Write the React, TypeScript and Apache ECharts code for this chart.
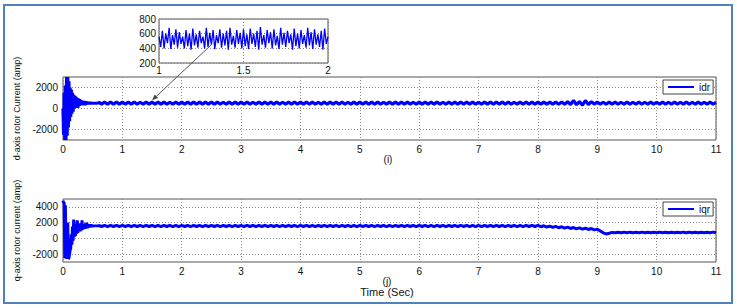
import React, { useEffect, useRef } from "react";
import * as echarts from "echarts";

// ---------- data ----------
const xTickLabels = ["0", "1", "2", "3", "4", "5", "6", "7", "8", "9", "10", "11"];
const insetXLabels = ["1", "1.5", "2"];
const insetYLabels = ["200", "400", "600", "800"];

// idr: transient, t = 0.00 .. 0.59 s, step 0.01
const idrTransient = [
  0, -2500, 1500, -3000, 2200, -3000, 3000, -2600, 3000, -1800,
  2600, -1200, 2000, -800, 1800, -500, 1500, -300, 1300, 0,
  1200, 100, 1100, 200, 1000, 50, 950, 250, 900, 300,
  800, 350, 750, 300, 700, 350, 720, 320, 680, 350,
  650, 380, 640, 380, 630, 400, 620, 400, 610, 410,
  600, 420, 600, 420, 610, 410, 600, 420, 600, 420,
];
// idr: steady part, t = 0.60 .. 11.00 s, step 0.05
const idrSteady = [
  600, 420, 610, 415, 600, 425, 605, 420,
  600, 420, 605, 415, 600, 425, 595, 420, 605, 415, 600, 425, 600, 415, 605, 420, 595, 425, 600, 415,
  605, 420, 600, 415, 600, 425, 605, 415, 600, 420, 600, 415, 605, 425, 595, 420, 600, 415, 605, 420,
  600, 425, 605, 415, 595, 420, 600, 415, 605, 425, 600, 415, 600, 420, 595, 425, 605, 415, 600, 420,
  600, 415, 600, 425, 605, 420, 595, 415, 600, 425, 605, 415, 600, 420, 600, 425, 595, 415, 605, 420,
  600, 420, 600, 415, 605, 425, 600, 415, 595, 420, 605, 425, 600, 415, 600, 420, 605, 415, 595, 425,
  605, 415, 600, 425, 600, 420, 605, 415, 595, 425, 600, 420, 605, 415, 600, 425, 600, 415, 605, 420,
  595, 425, 605, 415, 600, 420, 600, 415, 605, 425, 600, 415, 595, 420, 605, 425, 600, 415, 600, 420,
  600, 420, 605, 415, 600, 425, 610, 410, 620, 400, 640, 380, 760, 360, 660, 320, 760, 380, 640, 420,
  600, 420, 595, 425, 600, 420, 600, 420, 595, 425, 600, 420, 595, 420, 600, 425, 595, 420, 600, 420,
  595, 425, 600, 420, 595, 425, 600, 420, 595, 420, 600, 425, 595, 420, 600, 420, 595, 425, 600, 420,
  580,
];

// iqr: transient, t = 0.00 .. 0.59 s, step 0.01
const iqrTransient = [
  4800, 4500, 4600, -2500, 4200, -2600, 1500, -2600, 2000, -2600,
  -2500, -2000, -1500, -1200, 500, -800, 1500, -300, 2400, 200,
  1200, 300, 1800, 600, 2300, 700, 1500, 900, 1900, 900,
  1500, 1000, 2300, 1100, 1800, 1200, 1700, 1200, 1900, 1300,
  2000, 1300, 1700, 1400, 1800, 1400, 1800, 1450, 1750, 1450,
  1700, 1500, 1700, 1500, 1680, 1500, 1680, 1500, 1660, 1510,
];
// iqr: steady part, t = 0.60 .. 11.00 s, step 0.05
const iqrSteady = [
  1660, 1510, 1650, 1500, 1660, 1510, 1650, 1505,
  1655, 1510, 1650, 1505, 1660, 1510, 1650, 1500, 1660, 1510, 1655, 1505, 1660, 1500, 1650, 1510, 1655, 1505, 1660, 1500,
  1650, 1510, 1660, 1505, 1655, 1510, 1660, 1500, 1650, 1505, 1655, 1510, 1660, 1500, 1650, 1510, 1655, 1505, 1660, 1510,
  1655, 1505, 1650, 1510, 1660, 1500, 1655, 1510, 1650, 1505, 1660, 1510, 1655, 1500, 1660, 1505, 1650, 1510, 1655, 1500,
  1660, 1510, 1650, 1505, 1655, 1500, 1660, 1510, 1650, 1505, 1655, 1510, 1660, 1500, 1650, 1510, 1655, 1505, 1660, 1500,
  1650, 1505, 1660, 1510, 1655, 1500, 1650, 1510, 1660, 1505, 1655, 1500, 1660, 1510, 1650, 1505, 1655, 1510, 1660, 1500,
  1655, 1510, 1650, 1500, 1660, 1505, 1655, 1510, 1650, 1500, 1660, 1510, 1655, 1505, 1650, 1510, 1660, 1500, 1655, 1505,
  1660, 1500, 1655, 1510, 1650, 1505, 1660, 1510, 1655, 1500, 1650, 1510, 1660, 1505, 1655, 1500, 1660, 1510, 1650, 1505,
  1650, 1480, 1600, 1440, 1560, 1400, 1520, 1350, 1470, 1300, 1420, 1260, 1380, 1220, 1330, 1170, 1290, 1130, 1250, 1080,
  1150, 950, 700, 560, 650, 760, 720, 790, 720, 790, 715, 790, 720, 785, 720, 790, 715, 785, 720, 790,
  720, 790, 715, 785, 720, 790, 720, 785, 715, 790, 720, 790, 715, 785, 720, 790, 720, 785, 715, 790,
  750,
];

// zoomed idr, t = 1.00 .. 2.00 s, step 0.01
const idrZoom = [
  560, 420, 640, 400, 600, 470, 680, 390, 580, 450,
  660, 410, 620, 460, 560, 400, 650, 430, 600, 380,
  670, 440, 590, 410, 640, 470, 560, 400, 680, 420,
  610, 450, 650, 390, 580, 470, 660, 410, 600, 440,
  640, 380, 680, 450, 570, 410, 650, 460, 610, 400,
  660, 430, 590, 390, 670, 460, 600, 420, 640, 380,
  690, 450, 580, 410, 650, 470, 620, 400, 660, 440,
  570, 390, 680, 450, 610, 420, 640, 470, 590, 380,
  670, 430, 600, 400, 650, 460, 580, 410, 680, 440,
  620, 390, 660, 450, 590, 420, 640, 380, 670, 460,
  560,
];

const FONT = "'Liberation Sans', Arial, Helvetica, sans-serif";
const BLUE = "#0000ff";

function build(trans: number[], steady: number[]) {
  const out: number[][] = [];
  trans.forEach((v, i) => out.push([+(i * 0.01).toFixed(3), v]));
  steady.forEach((v, i) => out.push([+(0.6 + i * 0.05).toFixed(3), v]));
  return out;
}

export default function App() {
  const ref = useRef<HTMLDivElement>(null);
  useEffect(() => {
    document.body.style.margin = "0";
    const chart = echarts.init(ref.current!, undefined, { renderer: "svg" });

    const gridLine = { show: true, lineStyle: { color: "#8a8a8a", type: [1, 2] as any, width: 1 } };
    const altGridLine = { show: true, lineStyle: { color: ["rgba(0,0,0,0)", "#8a8a8a"], type: [1, 2] as any, width: 1 } };
    const label = { fontSize: 10, color: "#111", fontFamily: FONT };
    const evenOnly = (v: number) => (v % 2000 === 0 ? String(v) : "");

    const mainX = (gi: number) => ({
      gridIndex: gi,
      type: "value",
      min: 0,
      max: 11,
      interval: 1,
      axisLine: { show: false },
      axisTick: { show: false },
      axisLabel: { ...label, margin: 4, formatter: (v: number) => xTickLabels[Math.round(v)] ?? "" },
      splitLine: gridLine,
    });

    const option: any = {
      animation: false,
      backgroundColor: "#fff",
      grid: [
        { left: 63, top: 77, width: 653, height: 63, show: true, borderColor: "#555", borderWidth: 1, backgroundColor: "#fff" },
        { left: 63, top: 199, width: 653, height: 63, show: true, borderColor: "#555", borderWidth: 1, backgroundColor: "#fff" },
        { left: 159, top: 19, width: 169, height: 44, show: true, borderColor: "#555", borderWidth: 1, backgroundColor: "#fff" },
      ],
      xAxis: [
        mainX(0),
        mainX(1),
        {
          gridIndex: 2,
          type: "value",
          min: 1,
          max: 2,
          interval: 0.5,
          axisLine: { show: false },
          axisTick: { show: false },
          axisLabel: { ...label, margin: 2, formatter: (v: number) => insetXLabels[Math.round((v - 1) * 2)] ?? "" },
          splitLine: gridLine,
        },
      ],
      yAxis: [
        {
          gridIndex: 0,
          type: "value",
          min: -3000,
          max: 3000,
          interval: 1000,
          axisLine: { show: false },
          axisTick: { show: false },
          axisLabel: { ...label, margin: 5, formatter: evenOnly },
          splitLine: altGridLine,
          name: "d-axis rotor Current (amp)",
          nameLocation: "middle",
          nameRotate: 90,
          nameGap: 39,
          nameTextStyle: { fontSize: 9, color: "#111", fontFamily: FONT },
        },
        {
          gridIndex: 1,
          type: "value",
          min: -3000,
          max: 5000,
          interval: 1000,
          axisLine: { show: false },
          axisTick: { show: false },
          axisLabel: { ...label, margin: 5, formatter: evenOnly },
          splitLine: altGridLine,
          name: "q-axis rotor current (amp)",
          nameLocation: "middle",
          nameRotate: 90,
          nameGap: 39,
          nameTextStyle: { fontSize: 9, color: "#111", fontFamily: FONT },
        },
        {
          gridIndex: 2,
          type: "value",
          min: 200,
          max: 800,
          interval: 200,
          axisLine: { show: false },
          axisTick: { show: false },
          axisLabel: { ...label, margin: 3, formatter: (v: number) => insetYLabels[Math.round((v - 200) / 200)] ?? "" },
          splitLine: gridLine,
        },
      ],
      legend: [
        {
          data: ["idr"], left: 663, top: 80, backgroundColor: "#fff", borderColor: "#444", borderWidth: 1,
          padding: [2, 3, 2, 5], itemWidth: 26, itemHeight: 2, icon: "rect",
          textStyle: { fontSize: 10, color: "#111", fontFamily: FONT },
        },
        {
          data: ["iqr"], left: 663, top: 202, backgroundColor: "#fff", borderColor: "#444", borderWidth: 1,
          padding: [2, 3, 2, 5], itemWidth: 26, itemHeight: 2, icon: "rect",
          textStyle: { fontSize: 10, color: "#111", fontFamily: FONT },
        },
      ],
      series: [
        {
          type: "line", name: "idr", xAxisIndex: 0, yAxisIndex: 0, data: build(idrTransient, idrSteady),
          showSymbol: false, color: BLUE, lineStyle: { color: BLUE, width: 3.2 }, z: 3,
        },
        {
          type: "line", name: "iqr", xAxisIndex: 1, yAxisIndex: 1, data: build(iqrTransient, iqrSteady),
          showSymbol: false, color: BLUE, lineStyle: { color: BLUE, width: 3 }, z: 3,
        },
        {
          type: "line", name: "idr zoom", xAxisIndex: 2, yAxisIndex: 2,
          data: idrZoom.map((v, i) => [+(1 + i * 0.01).toFixed(3), v]),
          showSymbol: false, color: BLUE, lineStyle: { color: BLUE, width: 1.3 }, z: 3,
        },
      ],
    };
    chart.setOption(option);

    const from = chart.convertToPixel({ gridIndex: 2 } as any, [1.31, 450]) as number[];
    const to = chart.convertToPixel({ gridIndex: 0 } as any, [1.5, 780]) as number[];
    const dx = to[0] - from[0];
    const dy = to[1] - from[1];
    const len = Math.sqrt(dx * dx + dy * dy);
    const ux = dx / len, uy = dy / len;
    const hl = 6, hw = 2.5;
    const bx = to[0] - ux * hl, by = to[1] - uy * hl;
    const head = [
      [to[0], to[1]],
      [bx - uy * hw, by + ux * hw],
      [bx + uy * hw, by - ux * hw],
    ];

    chart.setOption({
      graphic: [
        {
          type: "rect", id: "frame", shape: { x: 4, y: 5, width: 728, height: 298 },
          style: { fill: "none", stroke: "#4f81bd", lineWidth: 2 }, z: 100,
        },
        {
          type: "line", id: "arrowLine", shape: { x1: from[0], y1: from[1], x2: bx, y2: by },
          style: { stroke: "#555", lineWidth: 1 }, z: 50,
        },
        { type: "polygon", id: "arrowHead", shape: { points: head }, style: { fill: "#444" }, z: 50 },
        {
          type: "text", id: "ti", x: 388, y: 159,
          style: { text: "(i)", fontSize: 10, fill: "#111", fontFamily: FONT, align: "center", verticalAlign: "middle" },
        },
        {
          type: "text", id: "tj", x: 387, y: 281,
          style: { text: "(j)", fontSize: 10, fill: "#111", fontFamily: FONT, align: "center", verticalAlign: "middle" },
        },
        {
          type: "text", id: "time", x: 387, y: 292,
          style: { text: "Time (Sec)", fontSize: 11, fill: "#111", fontFamily: FONT, align: "center", verticalAlign: "middle" },
        },
      ],
    });

    return () => chart.dispose();
  }, []);
  return <div ref={ref} style={{ width: 737, height: 308 }} />;
}
